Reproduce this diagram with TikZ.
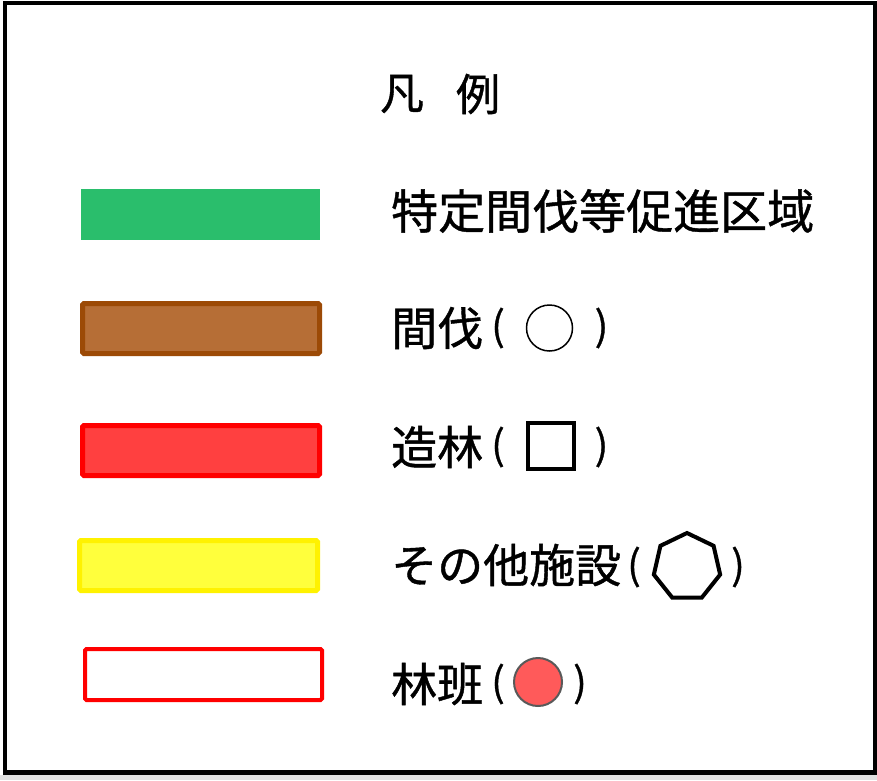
\documentclass[tikz,border=0pt]{standalone}
\usepackage{fontspec}
\newfontfamily\jp[FakeBold=0.9]{Noto Sans CJK JP}
\usetikzlibrary{shapes.geometric}
\definecolor{zgreen}{RGB}{42,190,108}
\definecolor{zbrownfill}{RGB}{182,110,54}
\definecolor{zbrownline}{RGB}{156,74,6}
\definecolor{zredfill}{RGB}{255,64,64}
\definecolor{zyellowfill}{RGB}{255,255,60}
\definecolor{zpink}{RGB}{255,90,90}
\tikzset{
  swatch/.style={rectangle, inner sep=0pt, rounded corners=1.5pt},
  lbl/.style={inner sep=0pt, anchor=west, font=\jp\fontsize{46}{50}\selectfont},
  paren/.style={inner sep=0pt, font=\jp\fontsize{40}{44}\selectfont},
  ttl/.style={inner sep=0pt, font=\jp\fontsize{44}{48}\selectfont},
}
\begin{document}
\begin{tikzpicture}[x=1pt,y=-1pt]
\useasboundingbox (0,0) rectangle (877,780);
\fill[black!12] (0,775) rectangle (877,780);
\fill[white] (0,0) rectangle (877,775);
\draw[line width=4.5pt] (5,3) rectangle (875,772.5);
% title
\node[ttl] (t1) at (402,94) {凡};
\node[ttl] (t2) at (478,94) {例};
% swatches
\node[swatch, fill=zgreen, minimum width=239pt, minimum height=51pt, rounded corners=0pt] (s1) at (200.5,214.5) {};
\node[swatch, draw=zbrownline, fill=zbrownfill, line width=5pt, minimum width=237pt, minimum height=50pt] (s2) at (201,328.5) {};
\node[swatch, draw=red, fill=zredfill, line width=5pt, minimum width=237pt, minimum height=50pt] (s3) at (201,450.5) {};
\node[swatch, draw=yellow, fill=zyellowfill, line width=5pt, minimum width=238pt, minimum height=50pt] (s4) at (198.5,565.5) {};
\node[swatch, draw=red, fill=white, line width=4pt, minimum width=237pt, minimum height=51pt] (s5) at (203.5,674.5) {};
% labels
\node[lbl, font=\jp\fontsize{47}{50}\selectfont] (l1) at (391,211) {特定間伐等促進区域};
\node[lbl] (l2) at (391,328) {間伐};
\node[paren] (l2a) at (498,328) {(};
\node[circle, draw, line width=1.5pt, minimum size=46pt, inner sep=0pt] (m2) at (549.5,328) {};
\node[paren] (l2b) at (601.5,328) {)};
\node[lbl] (l3) at (391,447) {造林};
\node[paren] (l3a) at (498,447) {(};
\node[rectangle, draw, line width=4pt, minimum size=46pt, inner sep=0pt] (m3) at (551,446) {};
\node[paren] (l3b) at (601.5,447) {)};
\node[lbl] (l4) at (391,565) {その他施設};
\node[paren] (l4a) at (634,567) {(};
\node[regular polygon, regular polygon sides=7, draw, line width=4pt, minimum size=68pt, inner sep=0pt] (m4) at (687,567) {};
\node[paren] (l4b) at (738,567) {)};
\node[lbl] (l5) at (391,684) {林班};
\node[paren] (l5a) at (498,684) {(};
\node[circle, draw=black!65, fill=zpink, line width=2pt, minimum size=48pt, inner sep=0pt] (m5) at (538,682) {};
\node[paren] (l5b) at (580,684) {)};
\end{tikzpicture}
\end{document}
